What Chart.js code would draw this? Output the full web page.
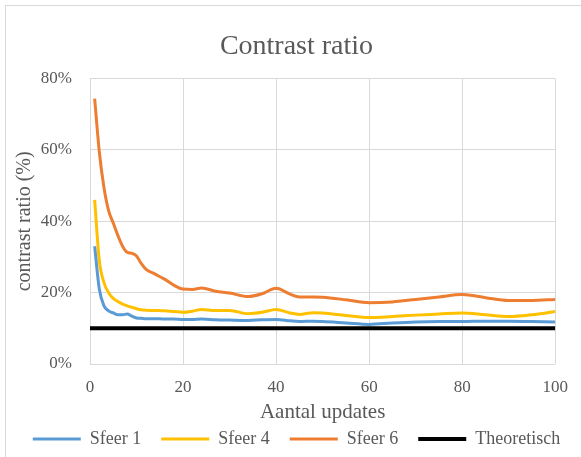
<!DOCTYPE html>
<html>
<head>
<meta charset="utf-8">
<script src="https://cdn.jsdelivr.net/npm/chart.js@4.4.1/dist/chart.umd.min.js"></script>
<style>
  body { margin: 0; background: #fff; overflow: hidden; }
  #kader { position: absolute; left: 5px; top: 5px; width: 600px; height: 480px; border: 1px solid #d9d9d9; }
  #grafiek { position: absolute; left: 0; top: 0; }
</style>
</head>
<body>
<div id="kader"></div>
<canvas id="grafiek" width="581" height="457"></canvas>
<script>
// Aantal updates (x) en contrast ratio in % per sfeer
const updates = [1, 2, 3, 4, 5, 6, 7, 8, 9, 10, 11, 12, 14, 16, 18, 20, 22, 24, 27, 30, 34, 37, 40, 43, 45, 48, 50, 55, 60, 65, 70, 75, 80, 85, 90, 95, 100];
const sfeer1 = [33.0, 21.0, 16.3, 14.9, 14.3, 13.8, 13.8, 14.0, 13.4, 12.9, 12.8, 12.7, 12.7, 12.6, 12.6, 12.5, 12.5, 12.6, 12.4, 12.3, 12.2, 12.4, 12.5, 12.1, 11.9, 12.0, 11.9, 11.5, 11.1, 11.5, 11.8, 11.9, 11.9, 12.0, 12.0, 11.9, 11.8];
const sfeer4 = [46.0, 29.0, 22.8, 20.0, 18.4, 17.5, 16.8, 16.3, 15.9, 15.5, 15.2, 15.1, 15.0, 14.9, 14.7, 14.5, 14.8, 15.3, 15.0, 15.0, 14.1, 14.5, 15.3, 14.3, 13.9, 14.4, 14.3, 13.6, 13.0, 13.3, 13.7, 14.0, 14.3, 13.8, 13.3, 13.8, 14.7];
const sfeer6 = [74.4, 59.5, 49.5, 43.0, 39.5, 36.0, 33.0, 31.3, 31.0, 30.3, 28.2, 26.6, 25.2, 23.8, 22.1, 21.0, 20.9, 21.3, 20.4, 19.9, 18.9, 19.7, 21.2, 19.6, 18.8, 18.8, 18.7, 18.0, 17.2, 17.4, 18.1, 18.8, 19.5, 18.6, 17.8, 17.8, 18.1];
const theorX = [0, 100];
const theorY = [10, 10];

const xTicks = [0, 20, 40, 60, 80, 100];
const yTicks = [0, 20, 40, 60, 80];

const lettertype = "'Liberation Serif', 'Times New Roman', serif";
const grijs = "#595959";

function punten(xs, ys) {
  return xs.map((x, i) => ({ x: x, y: ys[i] }));
}

function lijn(label, xs, ys, kleur, dikte) {
  return {
    label: label,
    data: punten(xs, ys),
    borderColor: kleur,
    backgroundColor: kleur,
    borderWidth: dikte,
    pointRadius: 0,
    pointStyle: "line",
    cubicInterpolationMode: "monotone",
    fill: false,
  };
}

const ctx = document.getElementById("grafiek").getContext("2d");
new Chart(ctx, {
  type: "line",
  data: {
    datasets: [
      lijn("Sfeer 1", updates, sfeer1, "#5B9BD5", 3),
      lijn("Sfeer 4", updates, sfeer4, "#FFC000", 3),
      lijn("Sfeer 6", updates, sfeer6, "#ED7D31", 3),
      lijn("Theoretisch", theorX, theorY, "#000000", 4),
    ],
  },
  options: {
    responsive: false,
    animation: false,
    layout: { padding: { left: 12, right: 0, top: 0, bottom: -1 } },
    plugins: {
      title: {
        display: true,
        text: "Contrast ratio",
        color: grijs,
        font: { family: lettertype, size: 28, weight: "normal" },
        padding: { top: 30, bottom: 15 },
      },
      legend: {
        position: "bottom",
        labels: {
          usePointStyle: true,
          pointStyle: "line",
          pointStyleWidth: 48,
          padding: 20,
          color: grijs,
          font: { family: lettertype, size: 18 },
        },
      },
      tooltip: { enabled: false },
    },
    scales: {
      x: {
        type: "linear",
        min: 0,
        max: 100,
        afterBuildTicks: (s) => { s.ticks = xTicks.map((v) => ({ value: v })); },
        afterFit: (s) => { s.height = 46; },
        grid: { color: "#d9d9d9", lineWidth: 1, drawTicks: false },
        border: { display: false },
        ticks: { color: grijs, padding: 13, font: { family: lettertype, size: 17 } },
        title: {
          display: true,
          text: "Aantal updates",
          color: grijs,
          font: { family: lettertype, size: 21 },
          padding: { top: 0, bottom: -15 },
        },
      },
      y: {
        min: 0,
        max: 80,
        afterBuildTicks: (s) => { s.ticks = yTicks.map((v) => ({ value: v })); },
        afterFit: (s) => { s.width = 78; },
        grid: { color: "#d9d9d9", lineWidth: 1, drawTicks: false },
        border: { display: false },
        ticks: {
          color: grijs,
          padding: 18,
          font: { family: lettertype, size: 17 },
          callback: (v) => v + "%",
        },
        title: {
          display: true,
          text: "contrast ratio (%)",
          color: grijs,
          font: { family: lettertype, size: 20 },
          padding: { top: 1, bottom: 0 },
        },
      },
      rechts: {
        position: "right",
        afterFit: (s) => { s.width = 25; },
        grid: { display: false, drawTicks: false },
        border: { display: false },
        ticks: { display: false },
      },
    },
  },
});
</script>
</body>
</html>
